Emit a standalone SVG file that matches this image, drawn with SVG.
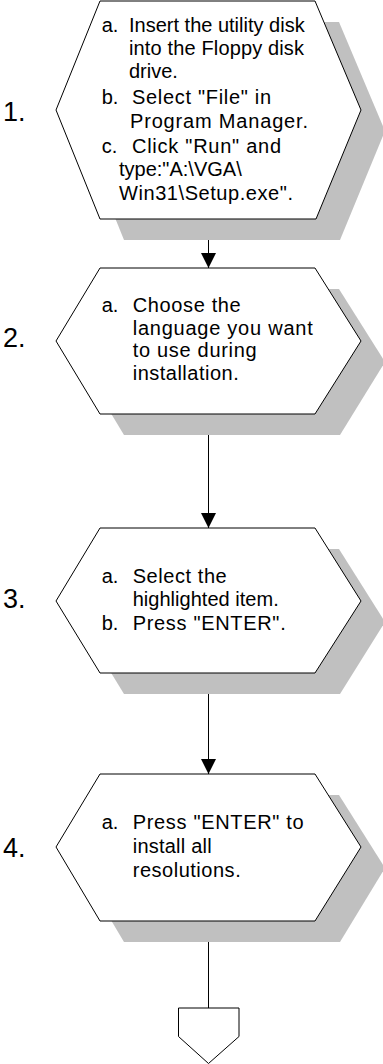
<svg xmlns="http://www.w3.org/2000/svg" width="383" height="1064" viewBox="0 0 383 1064">
<style>
.shadow{fill:#c0c0c0;stroke:none}
.hex{fill:#ffffff;stroke:#000000;stroke-width:1}
.conn{stroke:#000000;stroke-width:1;fill:none}
.t{font-family:"Liberation Sans",Arial,sans-serif;font-size:20px;fill:#000000}
.num{font-family:"Liberation Sans",Arial,sans-serif;font-size:27px;fill:#000000}
</style>
<defs>
<marker id="arrow" viewBox="0 0 15 15" refX="15" refY="7.5" markerWidth="15" markerHeight="15" markerUnits="userSpaceOnUse" orient="auto">
<path d="M0,0 L15,7.5 L0,15 Z" fill="#000000"/>
</marker>
</defs>
<rect width="383" height="1064" fill="#ffffff"/>

<g id="connectors">
<line class="conn" x1="208.5" y1="219" x2="208.5" y2="268" marker-end="url(#arrow)"/>
<line class="conn" x1="208.5" y1="414" x2="208.5" y2="528" marker-end="url(#arrow)"/>
<line class="conn" x1="208.5" y1="673" x2="208.5" y2="774" marker-end="url(#arrow)"/>
<line class="conn" x1="208.5" y1="921" x2="208.5" y2="1008"/>
</g>

<g id="step1">
<polygon class="shadow" points="124,22 339,22 385,131 340,240 124,240 80,131"/>
<polygon class="hex" points="100,1 315,1 361,110 316,219 100,219 56,110"/>
<text class="num" x="3" y="121">1.</text>
<text class="t" x="101.7" y="32">a.</text>
<text class="t" x="129" y="32">Insert the utility disk</text>
<text class="t" x="129" y="55" textLength="175" lengthAdjust="spacing">into the Floppy disk</text>
<text class="t" x="129" y="78">drive.</text>
<text class="t" x="101.7" y="104">b.</text>
<text class="t" x="132" y="104" textLength="139" lengthAdjust="spacing">Select "File" in</text>
<text class="t" x="130" y="128" textLength="178" lengthAdjust="spacing">Program Manager.</text>
<text class="t" x="101.7" y="153">c.</text>
<text class="t" x="132" y="153" textLength="149" lengthAdjust="spacing">Click "Run" and</text>
<text class="t" x="119" y="176">type:"A:\VGA\</text>
<text class="t" x="119" y="200" textLength="174" lengthAdjust="spacing">Win31\Setup.exe".</text>
</g>

<g id="step2">
<polygon class="shadow" points="124,289 339,289 385,362 340,435 124,435 80,362"/>
<polygon class="hex" points="100,268 315,268 361,341 315,414 100,414 56,341"/>
<text class="num" x="3" y="347">2.</text>
<text class="t" x="101.7" y="312">a.</text>
<text class="t" x="132.7" y="312" textLength="108" lengthAdjust="spacing">Choose the</text>
<text class="t" x="132.7" y="335" textLength="180" lengthAdjust="spacing">language you want</text>
<text class="t" x="132.7" y="357" textLength="124" lengthAdjust="spacing">to use during</text>
<text class="t" x="132.7" y="380" textLength="106" lengthAdjust="spacing">installation.</text>
</g>

<g id="step3">
<polygon class="shadow" points="124,549 339,549 385,622 340,694 124,694 80,622"/>
<polygon class="hex" points="100,528 315,528 361,601 315,673 100,673 56,601"/>
<text class="num" x="3" y="608">3.</text>
<text class="t" x="101.7" y="583">a.</text>
<text class="t" x="132.7" y="583" textLength="94" lengthAdjust="spacing">Select the</text>
<text class="t" x="132.7" y="606" textLength="146" lengthAdjust="spacing">highlighted item.</text>
<text class="t" x="101.7" y="630">b.</text>
<text class="t" x="132.7" y="630" textLength="153" lengthAdjust="spacing">Press "ENTER".</text>
</g>

<g id="step4">
<polygon class="shadow" points="124,795 339,795 385,868 340,942 124,942 80,868"/>
<polygon class="hex" points="100,774 315,774 361,847 315,921 100,921 56,847"/>
<text class="num" x="3" y="857">4.</text>
<text class="t" x="101.7" y="829">a.</text>
<text class="t" x="132.7" y="829" textLength="171" lengthAdjust="spacing">Press "ENTER" to</text>
<text class="t" x="132.7" y="853" textLength="79" lengthAdjust="spacing">install all</text>
<text class="t" x="132.7" y="877" textLength="108" lengthAdjust="spacing">resolutions.</text>
</g>

<g id="offpage">
<polygon class="hex" points="178.5,1008 239,1008 239,1036.5 208.5,1063.5 178.5,1036.5"/>
</g>
</svg>
